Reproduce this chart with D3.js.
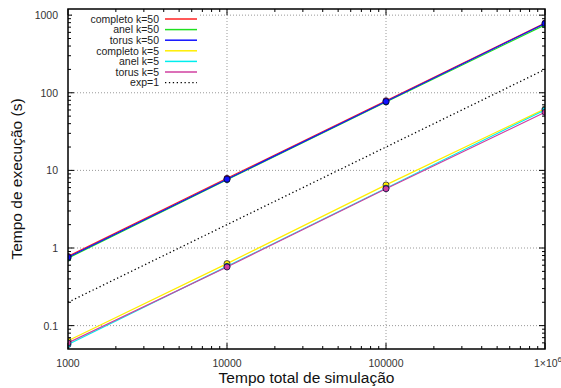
<!DOCTYPE html>
<html><head><meta charset="utf-8">
<script src="https://cdn.jsdelivr.net/npm/d3@7"></script>
<style>body{margin:0;background:#fff}svg{display:block}text{font-family:"Liberation Sans",Arial,sans-serif}</style>
</head><body><svg id="c" width="561" height="388"></svg>
<script>
const xValues = [1000, 10000, 100000, 1000000];
const seriesNames = ["completo k=50","anel k=50","torus k=50","completo k=5","anel k=5","torus k=5"];
const seriesColors = ["#ff2020","#20e020","#1010ff","#ffee00","#00eeee","#d040a0"];
const completoK50 = [0.78, 7.9, 79, 790];
const anelK50 = [0.74, 7.6, 76, 750];
const torusK50 = [0.76, 7.7, 77, 780];
const completoK5 = [0.064, 0.63, 6.5, 62];
const anelK5 = [0.057, 0.58, 5.9, 60];
const torusK5 = [0.060, 0.57, 5.8, 56];
const seriesValues = [completoK50, anelK50, torusK50, completoK5, anelK5, torusK5];
const expName = "exp=1";
const expCoef = 0.0002;
const xTicks = [1000, 10000, 100000, 1000000];
const xTickLabels = ["1000","10000","100000","1×10^6"];
const yTicks = [0.1, 1, 10, 100, 1000];
const yTickLabels = ["0.1","1","10","100","1000"];

const svg = d3.select("#c");
const L = 68, R = 545, T = 9, B = 349;
const x = d3.scaleLog().domain([1000, 1e6]).range([L, R]);
const y = d3.scaleLog().domain([0.05, 1200]).range([B, T]);

const minorX = [], minorY = [];
for (let d = 1000; d < 1e6; d *= 10) for (let k = 2; k <= 9; k++) minorX.push(d * k);
for (let d = 0.01; d < 2000; d *= 10) for (let k = 2; k <= 9; k++) { const v = d * k; if (v > 0.05 && v < 1200) minorY.push(v); }

const g = svg.append("g");
xTicks.slice(1, -1).forEach(v => g.append("line").attr("x1", x(v)).attr("x2", x(v)).attr("y1", T).attr("y2", B)
  .attr("stroke", "#999").attr("stroke-width", 1).attr("stroke-dasharray", "1,2"));
yTicks.forEach(v => g.append("line").attr("x1", L).attr("x2", R).attr("y1", y(v)).attr("y2", y(v))
  .attr("stroke", "#999").attr("stroke-width", 1).attr("stroke-dasharray", "1,2"));

const tk = svg.append("g").attr("stroke", "#000").attr("stroke-width", 1);
xTicks.forEach(v => { tk.append("line").attr("x1", x(v)).attr("x2", x(v)).attr("y1", B).attr("y2", B - 6);
  tk.append("line").attr("x1", x(v)).attr("x2", x(v)).attr("y1", T).attr("y2", T + 6); });
minorX.forEach(v => { tk.append("line").attr("x1", x(v)).attr("x2", x(v)).attr("y1", B).attr("y2", B - 3);
  tk.append("line").attr("x1", x(v)).attr("x2", x(v)).attr("y1", T).attr("y2", T + 3); });
yTicks.forEach(v => { tk.append("line").attr("x1", L).attr("x2", L + 6).attr("y1", y(v)).attr("y2", y(v));
  tk.append("line").attr("x1", R).attr("x2", R - 6).attr("y1", y(v)).attr("y2", y(v)); });
minorY.forEach(v => { tk.append("line").attr("x1", L).attr("x2", L + 3).attr("y1", y(v)).attr("y2", y(v));
  tk.append("line").attr("x1", R).attr("x2", R - 3).attr("y1", y(v)).attr("y2", y(v)); });

xTicks.forEach((v, i) => {
  const lab = xTickLabels[i];
  const t = svg.append("text").attr("x", x(v)).attr("y", 367).attr("text-anchor", "middle")
    .attr("font-size", 10.5).attr("fill", "#333");
  if (lab.includes("^")) {
    const [b, e] = lab.split("^");
    t.attr("x", x(v) + 3);
    t.append("tspan").text(b);
    t.append("tspan").attr("dy", -5).attr("font-size", 8).text(e);
  } else t.text(lab);
});
yTicks.forEach((v, i) => svg.append("text").attr("x", 58).attr("y", y(v) + 4).attr("text-anchor", "end")
  .attr("font-size", 10.5).attr("fill", "#333").text(yTickLabels[i]));

const line = d3.line().x(d => x(d[0])).y(d => y(d[1]));
svg.append("path").attr("d", line([[1000, expCoef * 1000], [1e6, expCoef * 1e6]]))
  .attr("fill", "none").attr("stroke", "#000").attr("stroke-width", 1.3).attr("stroke-dasharray", "1.3,2.6");

svg.append("defs").append("clipPath").attr("id", "clp").append("rect")
  .attr("x", L).attr("y", T).attr("width", R - L).attr("height", B - T);
seriesValues.forEach((vals, i) => {
  const pts = xValues.map((xv, j) => [xv, vals[j]]);
  svg.append("path").attr("d", line(pts)).attr("fill", "none").attr("stroke", seriesColors[i]).attr("stroke-width", 1.2);
});
seriesValues.forEach((vals, i) => {
  const pts = xValues.map((xv, j) => [xv, vals[j]]);
  svg.append("g").attr("clip-path", "url(#clp)").selectAll("circle").data(pts).enter().append("circle")
    .attr("cx", d => x(d[0])).attr("cy", d => y(d[1])).attr("r", 3)
    .attr("fill", seriesColors[i]).attr("stroke", "#003").attr("stroke-width", 0.7);
});

svg.append("rect").attr("x", L).attr("y", T).attr("width", R - L).attr("height", B - T)
  .attr("fill", "none").attr("stroke", "#000").attr("stroke-width", 1.5);

const legRows = seriesNames.map((n, i) => ({ name: n, color: seriesColors[i], dash: null }))
  .concat([{ name: expName, color: "#000", dash: "1.3,2.6" }]);
const leg = svg.append("g").attr("font-size", 10.5);
legRows.forEach((r, i) => {
  const yy = 19 + i * 10.6;
  leg.append("rect").attr("x", 72).attr("y", yy - 5).attr("width", 128).attr("height", 10.6).attr("fill", "#fff");
});
legRows.forEach((r, i) => {
  const yy = 19 + i * 10.6;
  leg.append("text").attr("x", 159).attr("y", yy + 3.8).attr("text-anchor", "end").attr("fill", "#222").text(r.name);
  const ln = leg.append("line").attr("x1", 165).attr("x2", 197).attr("y1", yy).attr("y2", yy)
    .attr("stroke", r.color).attr("stroke-width", r.dash ? 1.3 : 1.5);
  if (r.dash) ln.attr("stroke-dasharray", r.dash);
});

svg.append("text").attr("x", (L + R) / 2).attr("y", 383).attr("text-anchor", "middle").attr("font-size", 15.5).attr("fill", "#111").text("Tempo total de simulação");
svg.append("text").attr("transform", `translate(22,${(T + B) / 2}) rotate(-90)`).attr("text-anchor", "middle").attr("font-size", 15.5).attr("fill", "#111").text("Tempo de execução (s)");
</script></body></html>
